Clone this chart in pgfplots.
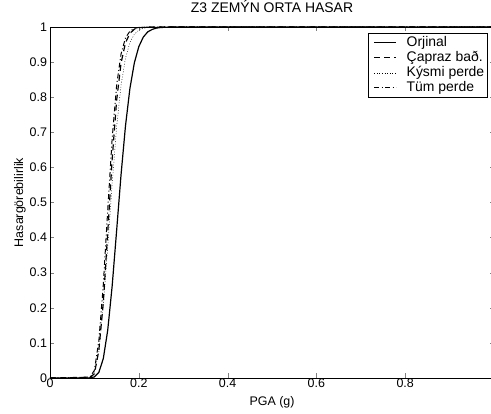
\documentclass[border=0pt]{standalone}
\usepackage{fontspec}
\setmainfont{Liberation Sans}
\usepackage{pgfplots}
\pgfplotsset{compat=1.18}
\usetikzlibrary{calc}
\begin{document}
\begin{tikzpicture}
\begin{axis}[
  name=ax,
  scale only axis,
  width=444bp, height=351bp,
  xmin=0, xmax=1, ymin=0, ymax=1,
  xtick={0,0.2,0.4,0.6,0.8},
  ytick={0,0.1,0.2,0.3,0.4,0.5,0.6,0.7,0.8,0.9,1},
  tick align=inside,
  tick pos=both,
  major tick length=4.5bp,
  /pgf/number format/assume math mode=true,
  tick label style={font=\fontsize{12.5}{14}\selectfont},
  xticklabel style={yshift=2.5bp},
  yticklabel style={xshift=0.5bp},
  title={Z3 ZEMÝN ORTA HASAR},
  title style={font=\fontsize{14}{16}\selectfont, at={(axis description cs:0.5,1)}, anchor=base, yshift=8.5bp},
  xlabel={PGA (g)},
  xlabel style={font=\fontsize{12.5}{14}\selectfont, at={(axis description cs:0.5,0)}, anchor=base, yshift=-27bp},
  ylabel={Hasargörebilirlik},
  every axis y label/.style={font=\fontsize{12.5}{14}\selectfont, at={(axis description cs:0,0.5)}, xshift=-30bp, rotate=90, anchor=center},
  axis line style={line width=0.8pt},
  legend image code/.code={\path[draw=none,fill=none] (-4bp,0bp) (31bp,0bp); \draw[#1] (0bp,0bp) -- (22bp,0bp);},
  legend style={font=\fontsize{14}{15}\selectfont, draw=black, line width=0.6pt, inner sep=2pt, row sep=0pt,
    nodes={inner sep=1.5bp, text height=9.5bp, text depth=2.5bp},
    at={(0.9865,0.983)}, anchor=north east},
  legend cell align=left,
]
\addplot[black, line width=1.2pt] coordinates {
(0,0) (0.09,0.0002) (0.10,0.0031) (0.11,0.016) (0.12,0.055) (0.13,0.136) (0.14,0.262)
(0.15,0.419) (0.16,0.579) (0.17,0.718) (0.18,0.825) (0.19,0.898) (0.20,0.944)
(0.21,0.971) (0.22,0.986) (0.23,0.993) (0.24,0.997) (0.25,0.9986) (0.27,0.9997)
(0.30,1) (1,1)};
\addlegendentry{Orjinal}
\addplot[black, line width=1.2pt, dash pattern=on 6bp off 4bp] coordinates {
(0,0) (0.09,0.0015) (0.10,0.012) (0.11,0.079) (0.12,0.215) (0.13,0.414) (0.14,0.623)
(0.15,0.790) (0.16,0.897) (0.17,0.955) (0.18,0.982) (0.19,0.9936) (0.20,0.9979)
(0.22,0.9998) (0.25,1) (1,1)};
\addlegendentry{Çapraz bað.}
\addplot[black, line width=0.5pt, dash pattern=on 0.8bp off 1.8bp] coordinates {
(0,0) (0.09,0.002) (0.10,0.015) (0.11,0.075) (0.12,0.204) (0.13,0.372) (0.14,0.554)
(0.15,0.715) (0.16,0.834) (0.17,0.911) (0.18,0.956) (0.19,0.9795) (0.20,0.991)
(0.21,0.9962) (0.22,0.9985) (0.24,0.9998) (0.27,1) (1,1)};
\addlegendentry{Kýsmi perde}
\addplot[black, line width=1pt, dash pattern=on 5bp off 2.5bp on 1bp off 2.5bp] coordinates {
(0,0) (0.09,0.0025) (0.10,0.022) (0.11,0.106) (0.12,0.265) (0.13,0.478) (0.14,0.682)
(0.15,0.833) (0.16,0.923) (0.17,0.969) (0.18,0.988) (0.19,0.996) (0.20,0.9987)
(0.22,0.9999) (0.25,1) (1,1)};
\addlegendentry{Tüm perde}
\end{axis}
\pgfresetboundingbox
\useasboundingbox ($(ax.south west)+(-50bp,-36bp)$) rectangle ($(ax.north west)+(441bp,27bp)$);
\end{tikzpicture}
\end{document}
